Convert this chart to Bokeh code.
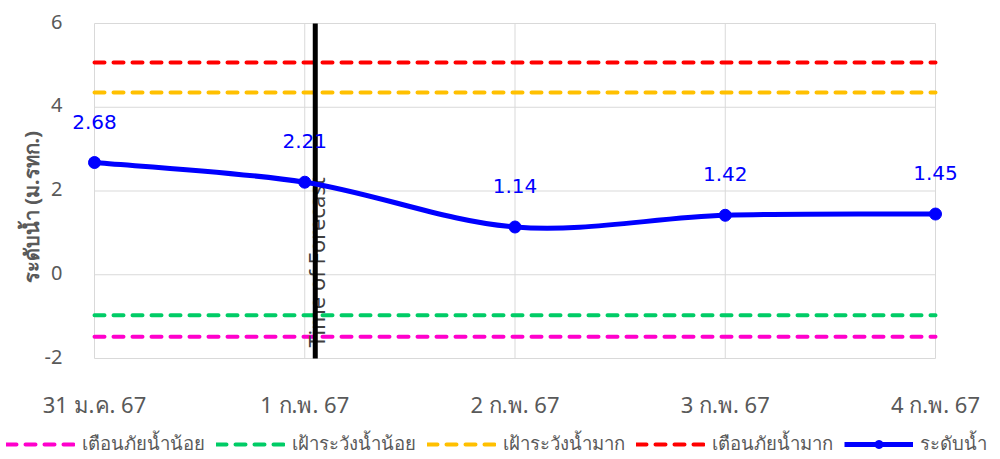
import math
from bokeh.plotting import figure
from bokeh.models import Range1d, Legend, LegendItem
from bokeh.core.properties import value
from bokeh.embed import file_html
from bokeh.resources import INLINE

# ---- data ----
dates = ["31 ม.ค. 67", "1 ก.พ. 67", "2 ก.พ. 67", "3 ก.พ. 67", "4 ก.พ. 67"]
water_level = [2.68, 2.21, 1.14, 1.42, 1.45]
low_alert = -1.48     # เตือนภัยน้ำน้อย
low_watch = -0.97     # เฝ้าระวังน้ำน้อย
high_watch = 4.35     # เฝ้าระวังน้ำมาก
high_alert = 5.07     # เตือนภัยน้ำมาก
forecast_pos = 1.05   # Time of Forecast (category index)
y_ticks = [-2, 0, 2, 4, 6]
y_tick_labels = ["-2", "0", "2", "4", "6"]
y_title = "ระดับน้ำ (ม.รทก.)"

FONT = "Noto Sans"
GRAY = "#595959"
GRID = "#d9d9d9"

xs = list(range(len(dates)))
thr_styles = [(low_alert, "#FF00CC"), (low_watch, "#00CC66"),
              (high_watch, "#FFC000"), (high_alert, "#FF0000")]

# ---- layout (pixels) : plot area placement inside the 1000x459 canvas ----
W, H = 1000, 459
PX_LEFT, PX_RIGHT, PX_TOP, PX_BOTTOM = 94, 935, 23, 358
sx = (PX_RIGHT - PX_LEFT) / (xs[-1] - xs[0])
sy = (PX_BOTTOM - PX_TOP) / (y_ticks[-1] - y_ticks[0])
x_range = Range1d(xs[0] - PX_LEFT / sx, xs[-1] + (W - PX_RIGHT) / sx)
y_range = Range1d(y_ticks[0] - (H - PX_BOTTOM) / sy, y_ticks[-1] + PX_TOP / sy)

p = figure(width=W, height=H, output_backend="svg", toolbar_location=None,
           x_range=x_range, y_range=y_range, x_axis_location=None, y_axis_location=None,
           min_border=0)
p.outline_line_color = None
p.grid.visible = False

# gridlines (only across the plotted span)
p.segment(x0=xs, x1=xs, y0=[y_ticks[0]] * len(xs), y1=[y_ticks[-1]] * len(xs),
          line_color=GRID, line_width=1)
p.segment(x0=[xs[0]] * len(y_ticks), x1=[xs[-1]] * len(y_ticks), y0=y_ticks, y1=y_ticks,
          line_color=GRID, line_width=1)

# axis tick labels and title
p.text(x=[xs[0]] * len(y_ticks), y=y_ticks, text=y_tick_labels, x_offset=-32, y_offset=-2,
       text_align="right", text_baseline="middle",
       text_font=value(FONT), text_font_size="20px", text_color=GRAY)
p.text(x=xs, y=[y_ticks[0]] * len(xs), text=dates, y_offset=45,
       text_align="center", text_baseline="middle",
       text_font=value(FONT), text_font_size="22px", text_color=GRAY)
p.text(x=[xs[0]], y=[(y_ticks[0] + y_ticks[-1]) / 2], text=[y_title], angle=math.pi / 2,
       x_offset=-63, y_offset=16, text_align="center", text_baseline="middle",
       text_font=value(FONT), text_font_size="20px", text_font_style="bold",
       text_color=GRAY)

# threshold lines
thr = []
for val, col in thr_styles:
    thr.append(p.line(x=[xs[0], xs[-1]], y=[val, val], line_color=col, line_width=4,
                      line_dash="10 9", line_cap="round"))

# time of forecast (vertical marker across the plot area)
p.text(x=[forecast_pos], y=[-1.74], text=["Time of Forecast"], angle=math.pi / 2,
       text_align="left", text_baseline="alphabetic", x_offset=1,
       text_font=value(FONT), text_font_size="22px", text_color="#404040")
p.segment(x0=[forecast_pos], x1=[forecast_pos], y0=[y_ticks[0]], y1=[y_ticks[-1]],
          line_color="black", line_width=5)

# smoothed water level curve (Catmull-Rom style bezier between data points)
n = len(xs)
x0, y0, x1, y1, cx0, cy0, cx1, cy1 = [], [], [], [], [], [], [], []
for i in range(n - 1):
    im1 = max(i - 1, 0)
    ip2 = min(i + 2, n - 1)
    x0.append(xs[i]); y0.append(water_level[i])
    x1.append(xs[i + 1]); y1.append(water_level[i + 1])
    cx0.append(xs[i] + (xs[i + 1] - xs[im1]) / 6)
    cy0.append(water_level[i] + (water_level[i + 1] - water_level[im1]) / 6)
    cx1.append(xs[i + 1] - (xs[ip2] - xs[i]) / 6)
    cy1.append(water_level[i + 1] - (water_level[ip2] - water_level[i]) / 6)
p.bezier(x0=x0, y0=y0, x1=x1, y1=y1, cx0=cx0, cy0=cy0, cx1=cx1, cy1=cy1,
         line_color="#0000FF", line_width=5)
pts = p.scatter(x=xs, y=water_level, size=12, color="#0000FF")
# single-point line: draws nothing on the chart, supplies the legend's line glyph
wl_line = p.line(x=xs[:1], y=water_level[:1], line_color="#0000FF", line_width=5)

# data labels
p.text(x=xs, y=water_level, text=[f"{v:.2f}" for v in water_level], y_offset=-41,
       text_align="center", text_baseline="middle",
       text_font=value("DejaVu Sans"), text_font_size="20px", text_color="#0000FF")

legend = Legend(items=[
    LegendItem(label="เตือนภัยน้ำน้อย", renderers=[thr[0]]),
    LegendItem(label="เฝ้าระวังน้ำน้อย", renderers=[thr[1]]),
    LegendItem(label="เฝ้าระวังน้ำมาก", renderers=[thr[2]]),
    LegendItem(label="เตือนภัยน้ำมาก", renderers=[thr[3]]),
    LegendItem(label="ระดับน้ำ", renderers=[wl_line, pts]),
], orientation="horizontal", location=(6, 1))
legend.glyph_width = 69
legend.glyph_height = 20
legend.label_standoff = 7
legend.spacing = 11
legend.padding = 0
legend.margin = 0
legend.border_line_color = None
legend.background_fill_alpha = 0
legend.label_text_font = FONT
legend.label_text_font_size = "18.5px"
legend.label_text_color = GRAY
p.add_layout(legend)

open("out.html", "w").write(file_html(p, INLINE))
